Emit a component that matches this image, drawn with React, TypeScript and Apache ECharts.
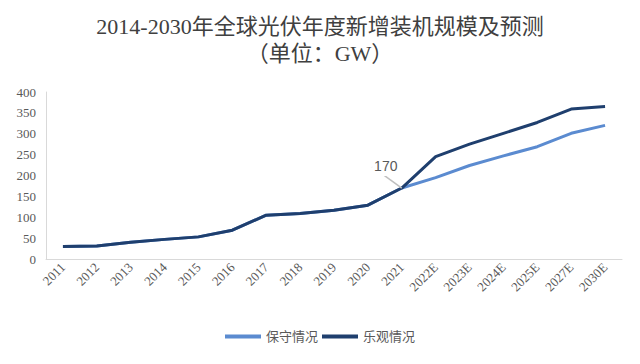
import React, { useEffect, useRef } from "react";
import * as echarts from "echarts";

const categories = ["2011", "2012", "2013", "2014", "2015", "2016", "2017", "2018", "2019", "2020", "2021", "2022E", "2023E", "2024E", "2025E", "2027E", "2030E"];
const conservative = [30, 31, 40, 47, 53, 69, 105, 109, 117, 129, 170, 195, 224, 247, 269, 301, 320];
const optimistic = [30, 31, 40, 47, 53, 69, 105, 109, 117, 129, 170, 245, 275, 301, 327, 359, 365];
const yTicks = [0, 50, 100, 150, 200, 250, 300, 350, 400];
const seriesNames = ["保守情况", "乐观情况"];
const titleText = "2014-2030年全球光伏年度新增装机规模及预测";
const subTitleText = "（单位：GW）";
const labelIndex = 10;

const SERIF = "'Liberation Serif', 'Times New Roman', 'Noto Sans CJK SC', serif";

export default function App() {
  const ref = useRef<HTMLDivElement>(null);
  useEffect(() => {
    if (!ref.current) return;
    const chart = echarts.init(ref.current, undefined, { renderer: "svg" });
    const optData = optimistic.map((v, i) =>
      i === labelIndex
        ? {
            value: v,
            label: {
              show: true,
              formatter: String(v),
              position: "top",
              distance: 0,
              color: "#595959",
              fontSize: 14,
              backgroundColor: "#ffffff",
              padding: [2, 2, 3, 2],
              fontFamily: "'Liberation Sans', Arial, sans-serif",
            },
          }
        : v
    );
    chart.setOption({
      animation: false,
      backgroundColor: "#ffffff",
      title: [
        {
          text: titleText + "\n" + subTitleText,
          left: "center",
          top: 8,
          textStyle: {
            fontFamily: SERIF,
            fontSize: 22,
            fontWeight: "normal",
            color: "#404040",
            lineHeight: 27,
            align: "center",
          },
        },
      ],
      legend: {
        bottom: 16,
        left: "center",
        itemWidth: 36,
        itemHeight: 4,
        itemGap: 4,
        icon: "rect",
        data: seriesNames,
        textStyle: { fontFamily: SERIF, fontSize: 13, color: "#595959" },
      },
      grid: { left: 46, right: 18, top: 92, bottom: 105, containLabel: false },
      xAxis: {
        type: "category",
        data: categories,
        boundaryGap: true,
        axisLine: { show: true, lineStyle: { color: "#d9d9d9", width: 1 } },
        axisTick: { show: false },
        axisLabel: {
          rotate: 45,
          interval: 0,
          fontFamily: SERIF,
          fontSize: 13,
          color: "#595959",
          margin: 6,
        },
      },
      yAxis: {
        type: "value",
        min: 0,
        max: yTicks[yTicks.length - 1],
        interval: 50,
        splitLine: { show: false },
        axisLine: { show: true, lineStyle: { color: "#d9d9d9", width: 1 } },
        axisTick: { show: false },
        axisLabel: { fontFamily: SERIF, fontSize: 13, color: "#595959", margin: 10 },
      },
      series: [
        {
          name: seriesNames[0],
          type: "line",
          data: conservative,
          symbol: "none",
          lineStyle: { color: "#5b8bd0", width: 3 },
          itemStyle: { color: "#5b8bd0" },
        },
        {
          name: seriesNames[1],
          type: "line",
          data: optData,
          symbol: "circle",
          symbolSize: 0,
          showSymbol: true,
          lineStyle: { color: "#1f3f6e", width: 3 },
          itemStyle: { color: "#1f3f6e" },
          labelLayout: { dx: -16, dy: -12 },
          labelLine: { show: true, lineStyle: { color: "#bfbfbf", width: 1.5 } },
        },
      ],
    });
    return () => chart.dispose();
  }, []);
  return <div ref={ref} style={{ width: 640, height: 364, position: "absolute", left: 0, top: 0 }} />;
}
